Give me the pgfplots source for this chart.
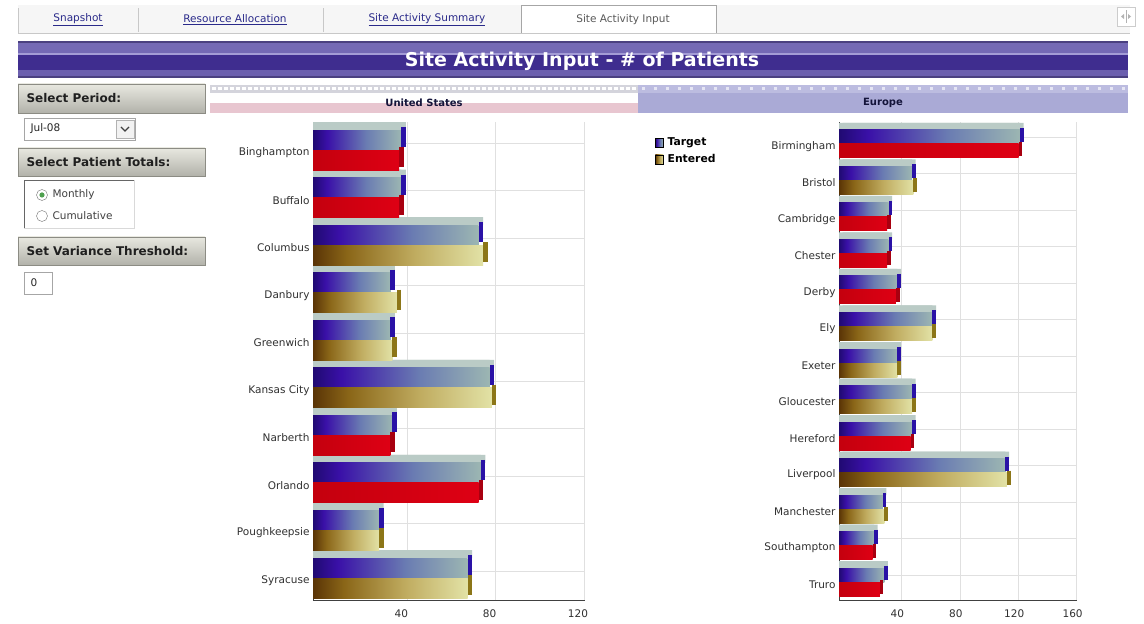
\documentclass[border=0pt]{standalone}
\usepackage{pgfplots}
\pgfplotsset{compat=1.18}
\usepackage{fontspec}
\setmainfont{DejaVu Sans}
\definecolor{tgtA}{HTML}{200A72}
\definecolor{tgtB}{HTML}{3A10A8}
\definecolor{tgtC}{HTML}{6A7CB2}
\definecolor{tgtD}{HTML}{9CB6B2}
\definecolor{tgtSide}{HTML}{2A12A6}
\definecolor{entA}{HTML}{5A3406}
\definecolor{entB}{HTML}{8A6618}
\definecolor{entC}{HTML}{C0AC60}
\definecolor{entD}{HTML}{E2E2A6}
\definecolor{entSide}{HTML}{8C7618}
\definecolor{redA}{HTML}{C4000E}
\definecolor{redB}{HTML}{DE0014}
\definecolor{redSide}{HTML}{A80010}
\definecolor{topA}{HTML}{AEC2BC}
\definecolor{topB}{HTML}{C6D4D0}
\definecolor{linkblue}{HTML}{2A2A8A}
\definecolor{tabgrey}{HTML}{F6F6F6}
\definecolor{tabline}{HTML}{C8C8C8}
\definecolor{barBorder}{HTML}{4A4080}
\definecolor{barLight}{HTML}{7469B5}
\definecolor{barLine}{HTML}{A49CD6}
\definecolor{barDark}{HTML}{3F2D8F}
\definecolor{barLow}{HTML}{6B5FAE}
\definecolor{boxTop}{HTML}{E8E8E0}
\definecolor{boxBot}{HTML}{B2B2AA}
\definecolor{boxLine}{HTML}{8C8C84}
\definecolor{pinkband}{HTML}{E8C6D0}
\definecolor{lavender}{HTML}{AAAAD6}
\definecolor{lavdots}{HTML}{BCBCE0}
\definecolor{dotgrey}{HTML}{D4D4DC}
\definecolor{hdrtext}{HTML}{14143A}
\definecolor{lbltext}{HTML}{303030}
\definecolor{radiogreen}{HTML}{4EA04E}
\pgfdeclarehorizontalshading{tgtshade}{100bp}{color(0bp)=(tgtA); color(25bp)=(tgtA); color(33bp)=(tgtB); color(55bp)=(tgtC); color(75bp)=(tgtD); color(100bp)=(tgtD)}
\pgfdeclarehorizontalshading{entshade}{100bp}{color(0bp)=(entA); color(25bp)=(entA); color(35bp)=(entB); color(55bp)=(entC); color(75bp)=(entD); color(100bp)=(entD)}
\pgfdeclarehorizontalshading{redshade}{100bp}{color(0bp)=(redA); color(25bp)=(redA); color(75bp)=(redB); color(100bp)=(redB)}
\newcommand{\lblfont}{\fontsize{10.5}{12}\selectfont}
\newcommand{\boxfont}{\bfseries\fontsize{12}{14}\selectfont}
\newcommand{\bb}[3]{\addplot[#1] coordinates {(#2,#3)};}
\pgfplotsset{
  basebar/.style={xbar, forget plot, draw=none},
  % United States
  usTop/.style={basebar, fill=topA!50!topB, bar width=8pt, bar shift=24pt},
  usT/.style={basebar, shade, shading=tgtshade, bar width=20pt, bar shift=10pt},
  usE/.style={basebar, shade, shading=entshade, bar width=20pt, bar shift=-10pt},
  usR/.style={basebar, shade, shading=redshade, bar width=20pt, bar shift=-10pt},
  usSide/.style={only marks, forget plot, mark=|, mark size=10pt,
     mark options={line width=4.5pt, draw=#1}, xshift=2.25pt},
  % Europe
  euTop/.style={basebar, fill=topA!50!topB, bar width=7pt, bar shift=17.5pt},
  euT/.style={basebar, shade, shading=tgtshade, bar width=14pt, bar shift=7pt},
  euE/.style={basebar, shade, shading=entshade, bar width=14pt, bar shift=-7pt},
  euR/.style={basebar, shade, shading=redshade, bar width=14pt, bar shift=-7pt},
  euSide/.style={only marks, forget plot, mark=|, mark size=7pt,
     mark options={line width=3.6pt, draw=#1}, xshift=1.8pt},
  chartaxis/.style={
    anchor=south west, scale only axis, height=478pt,
    axis x line*=bottom, axis y line*=left,
    axis line style={draw=black!75, -},
    xminorgrids, yminorgrids,
    minor grid style={draw=black!12},
    major tick length=0pt, minor tick length=0pt,
    tick label style={font=\lblfont, text=lbltext},
    xticklabel style={yshift=-6pt},
    yticklabel style={yshift=-2.5pt},
    /pgf/number format/assume math mode=true,
  },
}
\begin{document}
\begin{tikzpicture}[x=1pt,y=1pt]
\useasboundingbox (0,0) rectangle (1144,624);
\fill[white] (0,0) rectangle (1144,624);
% ---------- tabs ----------
\fill[tabgrey] (18,591) rectangle (1130,619);
\draw[tabline] (18,591) -- (1130,591);
\draw[tabline] (18,591) -- (18,616);
\foreach \xx in {138,323,521} {\draw[tabline] (\xx,592) -- (\xx,616);}
\fill[white] (521,591) rectangle (716,619);
\draw[black!35] (521,591) -- (521,619) -- (716,619) -- (716,591);
\node[font=\lblfont, text=linkblue] at (78,604) {\underline{Snapshot}};
\node[font=\lblfont, text=linkblue] at (235,604) {\underline{Resource Allocation}};
\node[font=\lblfont, text=linkblue] at (427,604) {\underline{Site Activity Summary}};
\node[font=\lblfont, text=black!65] at (623,604) {Site Activity Input};
\draw[black!20, fill=white] (1117,598) rectangle (1135,617);
\fill[black!30] (1121,607.5) -- (1124,610) -- (1124,605) -- cycle;
\fill[black!30] (1131,607.5) -- (1128,610) -- (1128,605) -- cycle;
\draw[black!30] (1126,601) -- (1126,614);
% ---------- title bar ----------
\fill[barBorder] (18,546) rectangle (1128,583);
\fill[barLight] (18,571) rectangle (1128,581);
\fill[barLine] (18,569) rectangle (1128,571);
\fill[barDark] (18,554) rectangle (1128,569);
\fill[barLow] (18,548) rectangle (1128,554);
\node[font=\bfseries\fontsize{19}{22}\selectfont, text=white] at (582,563) {Site Activity Input - \# of Patients};
% ---------- left panel ----------
\shade[top color=boxTop, bottom color=boxBot, draw=boxLine] (18,511) rectangle (205,540);
\node[font=\boxfont, text=black!88, anchor=west] at (23,525.5) {Select Period:};
\draw[black!35, fill=white] (24,484) rectangle (135,506);
\node[font=\lblfont, text=black!85, anchor=west] at (27,495) {Jul-08};
\draw[black!30, fill=black!5] (116,486) rectangle (134,504);
\draw[black!75, line width=1.2pt] (121,497) -- (125,493) -- (129,497);
\shade[top color=boxTop, bottom color=boxBot, draw=boxLine] (18,448) rectangle (205,476);
\node[font=\boxfont, text=black!88, anchor=west] at (23,462) {Select Patient Totals:};
\fill[white] (24,396) rectangle (134,444);
\draw[black!15] (24,396) -- (134,396) -- (134,444);
\draw[black!60, line width=0.8pt] (24,396) -- (24,444) -- (134,444);
\draw[black!55, fill=white] (42,429) circle (5.5);
\fill[radiogreen] (42,429) circle (2.6);
\node[font=\lblfont, text=black!75, anchor=west] at (49,429) {Monthly};
\draw[black!55, fill=white] (42,408) circle (5.5);
\node[font=\lblfont, text=black!75, anchor=west] at (49,408) {Cumulative};
\shade[top color=boxTop, bottom color=boxBot, draw=boxLine] (18,359) rectangle (205,387);
\node[font=\boxfont, text=black!88, anchor=west] at (23,373) {Set Variance Threshold:};
\draw[black!35, fill=white] (24,330) rectangle (52,352);
\node[font=\lblfont, text=black!85, anchor=west] at (27,341) {0};
% ---------- region headers ----------
\fill[dotgrey] (210,531) rectangle (638,539);
\draw[white, line width=3pt, dash pattern=on 4pt off 2pt] (212,535) -- (636,535);
\fill[pinkband] (210,511) rectangle (638,521);
\node[font=\bfseries\fontsize{10}{12}\selectfont, text=hdrtext] at (424,521.5) {United States};
\fill[lavender] (638,511) rectangle (1128,539);
\fill[lavdots] (638,531) rectangle (1128,539);
\draw[white!70!lavender, line width=3pt, dash pattern=on 3pt off 9pt] (642,535) -- (1126,535);
\node[font=\bfseries\fontsize{10}{12}\selectfont, text=hdrtext] at (883,521.5) {Europe};
% ---------- United States chart ----------
\begin{axis}[chartaxis,
  at={(313pt,24pt)}, width=271.6pt,
  xmin=0, xmax=123, ymin=-0.46, ymax=9.59,
  xtick={40,80,120},
  minor xtick={42.7,82.7,122.7},
  ytick={0,1,2,3,4,5,6,7,8,9},
  yticklabels={Syracuse,Poughkeepsie,Orlando,Narberth,Kansas City,Greenwich,Danbury,Columbus,Buffalo,Binghampton},
  minor ytick={0.15,1.15,2.15,3.15,4.15,5.15,6.15,7.15,8.15,9.15},
]
% top faces (drawn twice, the second shifted by the bars' depth)
\addplot[usTop] coordinates {(40,9) (40,8) (75,7) (35,6) (35,5) (80,4) (36,3) (76,2) (30,1) (70,0)};
\addplot[usTop, xshift=4.5pt] coordinates {(40,9) (40,8) (75,7) (35,6) (35,5) (80,4) (36,3) (76,2) (30,1) (70,0)};
% Target
\bb{usT}{40}{9} \bb{usT}{40}{8} \bb{usT}{75}{7} \bb{usT}{35}{6} \bb{usT}{35}{5}
\bb{usT}{80}{4} \bb{usT}{36}{3} \bb{usT}{76}{2} \bb{usT}{30}{1} \bb{usT}{70}{0}
\addplot[usSide=tgtSide, yshift=13pt] coordinates {(40,9) (40,8) (75,7) (35,6) (35,5) (80,4) (36,3) (76,2) (30,1) (70,0)};
% Entered (at or above target)
\bb{usE}{77}{7} \bb{usE}{38}{6} \bb{usE}{36}{5} \bb{usE}{81}{4} \bb{usE}{30}{1} \bb{usE}{70}{0}
\addplot[usSide=entSide, yshift=-7pt] coordinates {(77,7) (38,6) (36,5) (81,4) (30,1) (70,0)};
% Entered (below target)
\bb{usR}{39}{9} \bb{usR}{39}{8} \bb{usR}{35}{3} \bb{usR}{75}{2}
\addplot[usSide=redSide, yshift=-7pt] coordinates {(39,9) (39,8) (35,3) (75,2)};
\end{axis}
% ---------- Europe chart ----------
\begin{axis}[chartaxis,
  at={(839pt,24pt)}, width=238pt,
  xmin=0, xmax=163, ymin=-0.49, ymax=12.6,
  xtick={40,80,120,160},
  minor xtick={42.7,82.7,122.7,162.7},
  ytick={0,1,2,3,4,5,6,7,8,9,10,11,12},
  yticklabels={Truro,Southampton,Manchester,Liverpool,Hereford,Gloucester,Exeter,Ely,Derby,Chester,Cambridge,Bristol,Birmingham},
  minor ytick={0.19,1.19,2.19,3.19,4.19,5.19,6.19,7.19,8.19,9.19,10.19,11.19,12.19},
  legend style={at={(axis description cs:-0.773,0.971)}, anchor=north west,
    draw=none, fill=none, font=\bfseries\fontsize{10.8}{12}\selectfont,
    row sep=3pt, column sep=2pt, cells={anchor=west}, inner sep=0pt},
]
% top faces
\addplot[euTop] coordinates {(124,12) (50,11) (34,10) (34,9) (40,8) (64,7) (40,6) (50,5) (50,4) (114,3) (30,2) (24,1) (31,0)};
\addplot[euTop, xshift=3.6pt] coordinates {(124,12) (50,11) (34,10) (34,9) (40,8) (64,7) (40,6) (50,5) (50,4) (114,3) (30,2) (24,1) (31,0)};
% Target
\bb{euT}{124}{12} \bb{euT}{50}{11} \bb{euT}{34}{10} \bb{euT}{34}{9} \bb{euT}{40}{8}
\bb{euT}{64}{7} \bb{euT}{40}{6} \bb{euT}{50}{5} \bb{euT}{50}{4} \bb{euT}{114}{3}
\bb{euT}{30}{2} \bb{euT}{24}{1} \bb{euT}{31}{0}
\addplot[euSide=tgtSide, yshift=9pt] coordinates {(124,12) (50,11) (34,10) (34,9) (40,8) (64,7) (40,6) (50,5) (50,4) (114,3) (30,2) (24,1) (31,0)};
% Entered (at or above target)
\bb{euE}{51}{11} \bb{euE}{64}{7} \bb{euE}{40}{6} \bb{euE}{50}{5} \bb{euE}{115}{3} \bb{euE}{31}{2}
\addplot[euSide=entSide, yshift=-5pt] coordinates {(51,11) (64,7) (40,6) (50,5) (115,3) (31,2)};
% Entered (below target)
\bb{euR}{123}{12} \bb{euR}{33}{10} \bb{euR}{33}{9} \bb{euR}{39}{8} \bb{euR}{49}{4} \bb{euR}{23}{1} \bb{euR}{28}{0}
\addplot[euSide=redSide, yshift=-5pt] coordinates {(123,12) (33,10) (33,9) (39,8) (49,4) (23,1) (28,0)};
\addlegendimage{legend image code/.code={\shade[shading=tgtshade] (0pt,-4.5pt) rectangle (8pt,4.5pt);}}
\addlegendentry{Target}
\addlegendimage{legend image code/.code={\shade[shading=entshade] (0pt,-4.5pt) rectangle (8pt,4.5pt);}}
\addlegendentry{Entered}
\end{axis}
\end{tikzpicture}
\end{document}
